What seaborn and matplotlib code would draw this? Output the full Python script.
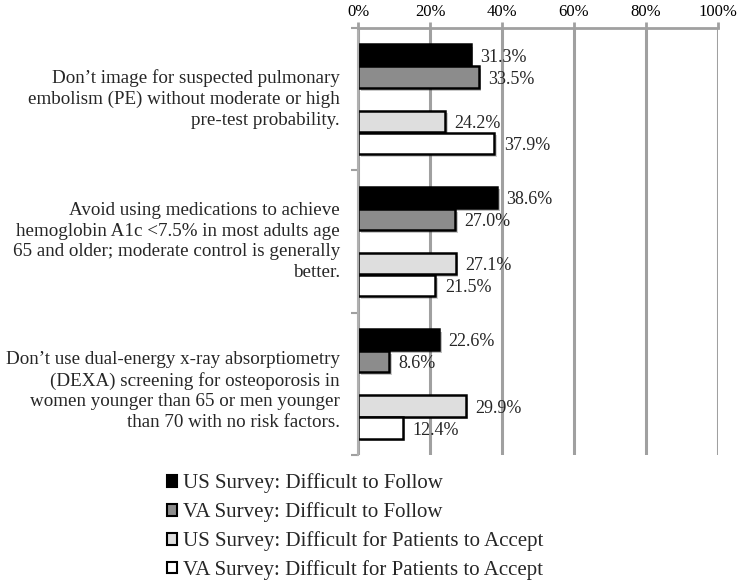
import pandas as pd
import matplotlib
matplotlib.use("Agg")
import matplotlib.pyplot as plt
import matplotlib.patheffects as pe
import seaborn as sns

# data
rules = [
    "Don\u2019t image for suspected pulmonary\nembolism (PE) without moderate or high\npre-test probability.",
    "Avoid using medications to achieve\nhemoglobin A1c <7.5% in most adults age\n65 and older; moderate control is generally\nbetter.",
    "Don\u2019t use dual-energy x-ray absorptiometry\n(DEXA) screening for osteoporosis in\nwomen younger than 65 or men younger\nthan 70 with no risk factors.",
]
series = [
    "US Survey: Difficult to Follow",
    "VA Survey: Difficult to Follow",
    "US Survey: Difficult for Patients to Accept",
    "VA Survey: Difficult for Patients to Accept",
]
us_follow = [31.3, 38.6, 22.6]
va_follow = [33.5, 27.0, 8.6]
us_accept = [24.2, 27.1, 29.9]
va_accept = [37.9, 21.5, 12.4]
ticks = ["0%", "20%", "40%", "60%", "80%", "100%"]

colors = ["#000000", "#8c8c8c", "#dedede", "#ffffff"]
offsets = [0.19, 0.345, 0.655, 0.81]  # bar slots inside each group
label_y = [0.5, 0.5, 0.55]

rows = []
for g in range(len(rules)):
    for s, vals in enumerate([us_follow, va_follow, us_accept, va_accept]):
        rows.append({"pos": g + offsets[s], "series": series[s], "value": vals[g]})
df = pd.DataFrame(rows)

sns.set_style("white")
plt.rcParams["font.family"] = ["Liberation Serif", "DejaVu Serif"]
plt.rcParams["font.size"] = 12

fig = plt.figure(figsize=(7.42, 5.88), dpi=100)
ax = fig.add_axes([0.4825, 0.2262, 0.4852, 0.7262])

sns.barplot(data=df, x="value", y="pos", hue="series", hue_order=series,
            palette=colors, orient="h", native_scale=True, dodge=False,
            errorbar=None, width=0.97, edgecolor="black", linewidth=1.8, ax=ax)

for p in ax.patches:
    p.set_path_effects([pe.SimplePatchShadow(offset=(2, -2), alpha=0.25), pe.Normal()])

# value labels
for _, r in df.iterrows():
    ax.text(r["value"] + 2.6, r["pos"] + 0.015, f"{r['value']:.1f}%",
            va="center", ha="left", fontsize=13)

# group labels
for g, lab in enumerate(rules):
    ax.text(-0.05, g + label_y[g], lab, transform=ax.get_yaxis_transform(),
            ha="right", va="center", multialignment="right",
            linespacing=1.29, fontsize=13.7)

ax.set_xlim(0, 100)
ax.set_ylim(3, 0)
ax.set_xticks([0, 20, 40, 60, 80, 100])
ax.set_xticklabels(ticks)
ax.set_yticks([0, 1, 2, 3])
ax.set_yticklabels([])
ax.set_xlabel("")
ax.set_ylabel("")
ax.xaxis.tick_top()
ax.tick_params(axis="x", colors="#a0a0a0", length=4, width=2, pad=1.5, labelcolor="black", labelsize=12)
ax.tick_params(axis="y", colors="#a0a0a0", length=5, width=1.5, left=True)
ax.xaxis.grid(True, color="#a0a0a0", linewidth=2.2)
ax.set_axisbelow(True)
for side in ["right", "bottom"]:
    ax.spines[side].set_visible(False)
ax.spines["top"].set_color("#a0a0a0")
ax.spines["top"].set_linewidth(2)
ax.spines["left"].set_color("#b0b0b0")
ax.spines["left"].set_linewidth(1.5)

sns.move_legend(ax, "upper left", bbox_to_anchor=(0.225, 0.195),
                bbox_transform=fig.transFigure, frameon=False, title=None,
                borderpad=0, borderaxespad=0,
                handlelength=0.5, handleheight=0.5, handletextpad=0.25,
                labelspacing=0.43, fontsize=15)
for h in ax.get_legend().legend_handles:
    h.set_edgecolor("black")
    h.set_linewidth(1.5)

fig.savefig("out.png", dpi=100)
